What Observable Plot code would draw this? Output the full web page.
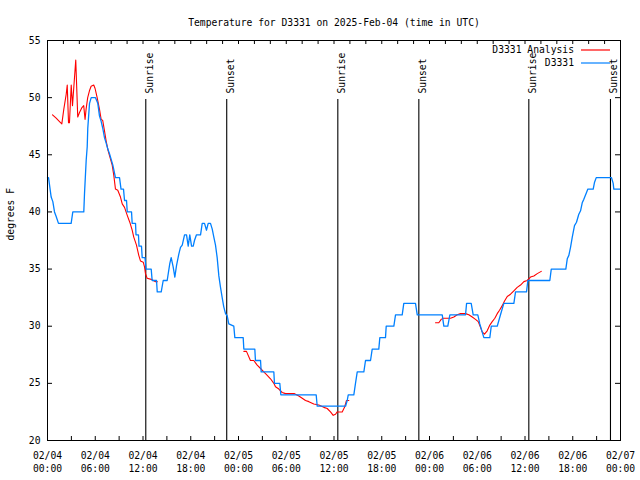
<!DOCTYPE html>
<html><head><meta charset="utf-8">
<script src="https://cdn.jsdelivr.net/npm/d3@7"></script>
<script src="https://cdn.jsdelivr.net/npm/@observablehq/plot@0.6"></script>
<style>body{margin:0;background:#fff}#chart{width:640px;height:480px}</style>
</head><body><div id="chart"></div>
<script>
const title = "Temperature for D3331 on 2025-Feb-04 (time in UTC)";
const yLabel = "degrees F";
const xTickHours = [0, 6, 12, 18, 24, 30, 36, 42, 48, 54, 60, 66, 72];
const xTickLabels = ["02/04\n00:00","02/04\n06:00","02/04\n12:00","02/04\n18:00","02/05\n00:00","02/05\n06:00","02/05\n12:00","02/05\n18:00","02/06\n00:00","02/06\n06:00","02/06\n12:00","02/06\n18:00","02/07\n00:00"];
const yTicks = [20, 25, 30, 35, 40, 45, 50, 55];
const sunHours = [12.35, 22.52, 36.48, 46.66, 60.48, 70.74];
const sunLabels = ["Sunrise", "Sunset", "Sunrise", "Sunset", "Sunrise", "Sunset"];
const seriesNames = ["D3331 Analysis", "D3331"];
const seriesColors = ["#ff0000", "#0080ff"];

const blueHours = [0,0.13,0.46,0.67,0.88,1.09,1.38,2.97,3.18,4.56,
4.65,4.86,4.99,5.06,5.28,5.49,6.03,6.32,6.53,6.75,
6.95,7.16,7.38,7.58,7.79,8.0,8.21,8.54,9.05,9.24,
9.55,9.68,9.93,10.02,10.56,10.64,11.06,11.12,11.43,11.5,
11.81,11.9,12.25,12.38,13.03,13.15,13.7,13.79,14.29,14.54,
15.04,15.37,15.54,15.79,16.0,16.21,16.5,16.71,16.93,17.22,
17.47,17.68,17.88,18.1,18.31,18.47,18.72,19.23,19.44,19.73,
19.98,20.19,20.48,20.7,20.9,21.11,21.32,21.53,21.74,21.95,
22.15,22.37,22.58,22.78,23.41,23.54,24.59,24.67,26.05,26.13,
26.77,26.85,28.44,28.52,29.19,29.32,33.76,33.89,37.45,37.66,
37.79,38.49,38.7,38.92,39.75,39.96,40.59,40.8,41.63,41.76,
42.47,42.56,43.52,43.73,44.57,44.77,46.24,46.46,49.6,49.8,
50.3,50.56,52.53,52.66,53.24,53.49,54.07,54.32,54.83,55.58,
55.76,56.51,56.92,57.34,58.6,58.81,60.19,60.36,63.12,63.3,
65.13,65.31,65.51,65.72,65.94,66.22,66.47,66.76,66.98,67.19,
67.39,67.73,67.9,68.57,68.74,68.95,70.87,71.08,71.16,72];
const blueTemps = [43,43,41.3,40.9,40,39.6,39,39,40,40,
41.6,44.5,45.7,47.3,49.5,50,50,49.5,48.4,47.9,
47.3,46.5,46,45.5,45.1,44.6,44.1,43,43,42,
42,41,41,40,40,39,39,38,38,37,
37,36,36,35,35,34,34,33,33,34,
34,35.5,36,35.2,34.3,35.3,36.3,36.9,37.1,38,
38,37,38,37,37,37.5,38,38,39,39,
38.4,39,39,38.5,37.8,37.1,36,34.4,33.4,32.5,
31.7,31.1,30.9,30.2,30,29,29,28,28,27,
27,26,26,25,25,24,24,23,23,23.5,
24,24,25,26,26,27,27,28,28,29,
29,30,30,31,31,32,32,31,31,30,
30,31,31,32,32,31,31,30.2,29,29,
30,30,31,32,32,33,33,34,34,35,
35,35.9,36.2,36.9,37.8,38.8,39.1,39.8,40.1,40.8,
41.1,41.7,42,42,42.6,43,43,42.5,42,42];

const redHours = [0.63,1.09,1.51,1.8,2.05,2.35,2.48,2.64,2.76,2.98,
3.14,3.55,3.8,4.02,4.3,4.55,4.72,4.85,5.05,5.27,
5.48,5.81,5.98,6.24,6.53,6.74,6.94,7.16,7.37,7.6,
7.8,8.13,8.33,8.54,8.83,9.17,9.39,9.68,10.02,10.34,
10.64,10.84,11.18,11.47,11.69,12.03,12.19,12.31,12.52,13.03,
13.57,13.79,
20,
24.67,25.0,25.5,25.92,26.35,26.77,27.18,27.61,28.02,28.44,
28.65,29.07,29.49,29.91,31.04,31.58,32.01,32.42,32.84,33.46,
34.09,34.72,35.15,35.56,35.9,36.19,36.4,37.03,37.32,37.57,37.86,
45,
48.76,49.17,49.47,49.72,50.64,51.06,51.48,51.9,52.53,52.94,
53.37,53.78,54.12,54.41,54.62,54.91,55.25,55.58,55.88,56.21,
56.51,56.8,57.14,57.43,57.77,58.18,58.6,59.02,59.44,59.86,
60.28,60.69,61.11,61.54,62.04];
const redTemps = [48.5,48.2,47.9,47.7,49.0,50.3,51.1,47.8,47.8,51.1,
49.3,53.3,48.3,48.7,49.1,49.3,48.1,49.0,50.0,50.6,
51.0,51.1,50.8,50.0,49.0,48.1,48.0,47.1,46.2,45.4,
44.9,44.1,43.2,42.0,41.9,41.3,40.7,40.4,39.7,39.1,
38.4,37.8,37.1,36.2,35.7,35.6,35.2,34.6,34.2,34.1,
33.9,33.9,
null,
27.8,27.8,27.0,27.0,26.6,26.3,26.0,25.7,25.4,25.0,
24.7,24.5,24.2,24.1,24.1,23.9,23.7,23.5,23.4,23.2,
23.1,22.9,22.8,22.5,22.2,22.3,22.5,22.5,22.9,23.5,23.5,
null,
30.3,30.3,30.6,30.7,30.7,30.8,31.0,31.1,31.1,31.0,
30.8,30.6,30.4,29.9,29.5,29.3,29.6,30.1,30.4,30.7,
31.1,31.4,31.8,32.2,32.6,32.8,33.1,33.4,33.6,33.9,
34.0,34.3,34.4,34.6,34.8];

const blue = blueHours.map((h, i) => ({h, t: blueTemps[i]}));
const red = redHours.map((h, i) => ({h, t: redTemps[i]}));
const sun = sunHours.map((h, i) => ({h, label: sunLabels[i]}));
const bottomTicks = d3.range(0, 73, 3);
const topTicks = d3.range(0, 73, 2);

function legend(index, scales, values, dims) {
  const g = d3.create("svg:g");
  const right = dims.width - dims.marginRight;
  const top = dims.marginTop;
  seriesNames.forEach((name, i) => {
    const y = top + 10 + i * 13;
    g.append("text").attr("x", right - 46).attr("y", y).attr("dy", "0.32em")
      .attr("text-anchor", "end").attr("fill", "black").text(name);
    g.append("line").attr("x1", right - 39).attr("x2", right - 10)
      .attr("y1", y).attr("y2", y).attr("stroke", seriesColors[i]).attr("stroke-width", 1.2);
  });
  return g.node();
}

const chart = Plot.plot({
  width: 640, height: 480,
  marginLeft: 47, marginRight: 20, marginTop: 40, marginBottom: 40,
  style: {fontFamily: "DejaVu Sans Mono", fontSize: "9.7px", background: "white", color: "black"},
  x: {domain: [0, 72], label: null},
  y: {domain: [20, 55], label: null},
  marks: [
    Plot.ruleX(sun, {x: "h", insetTop: 59, stroke: "black", strokeWidth: 1.1}),
    Plot.text(sun, {x: "h", text: "label", frameAnchor: "top", dy: 53, rotate: -90, textAnchor: "start", fill: "black"}),
    Plot.line(red, {x: "h", y: "t", stroke: seriesColors[0], strokeWidth: 1.1}),
    Plot.line(blue, {x: "h", y: "t", stroke: seriesColors[1], strokeWidth: 1.3}),
    Plot.ruleX(bottomTicks, {x: d => d, insetTop: 396, stroke: "black"}),
    Plot.ruleX(topTicks, {x: d => d, insetBottom: 396, stroke: "black"}),
    Plot.ruleY(yTicks, {y: d => d, insetRight: 568, stroke: "black"}),
    Plot.ruleY(yTicks, {y: d => d, insetLeft: 568, stroke: "black"}),
    Plot.axisX({ticks: xTickHours, tickFormat: d => xTickLabels[xTickHours.indexOf(d)], tickSize: 0, tickPadding: 9, lineHeight: 1.35, fill: "black"}),
    Plot.axisY({ticks: yTicks, tickFormat: d => String(d), tickSize: 0, tickPadding: 7, fill: "black"}),
    Plot.frame({stroke: "black"}),
    Plot.text([title], {text: d => d, frameAnchor: "top", dy: -21, fill: "black"}),
    Plot.text([yLabel], {text: d => d, frameAnchor: "left", dx: -37, rotate: -90, fill: "black"}),
    legend
  ]
});
document.getElementById("chart").appendChild(chart);
</script>
</body></html>
